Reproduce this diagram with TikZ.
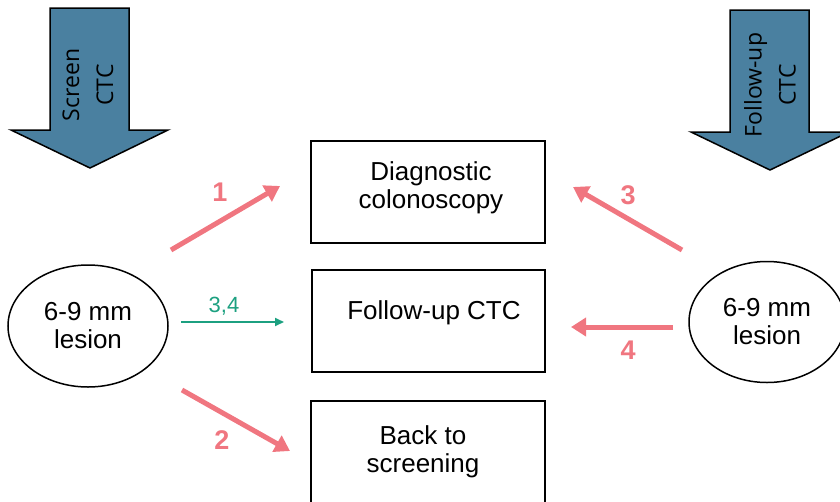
\documentclass[tikz,border=0pt]{standalone}
\usepackage{fontspec}
\setmainfont{Liberation Sans}
\newfontfamily\arrowfont{Open Sans}
\usetikzlibrary{arrows.meta,shapes.geometric}
\definecolor{pinkarr}{RGB}{240,118,128}
\definecolor{greenarr}{RGB}{28,160,128}
\definecolor{bluearr}{RGB}{74,128,160}
\tikzset{
  boxnode/.style={draw=black,line width=1.8pt,rectangle,inner sep=0pt},
  boxtext/.style={font=\fontsize{26}{28}\selectfont,align=center,inner sep=0pt},
  lesion/.style={draw=black,line width=1.5pt,ellipse,inner sep=0pt,align=center,font=\fontsize{26}{28}\selectfont},
  bigarrow/.style={draw=black,line width=1.5pt,fill=bluearr,line join=miter},
  arrowtext/.style={rotate=90,align=center,font=\arrowfont\fontsize{23}{34}\selectfont,inner sep=0pt},
  pinkline/.style={draw=pinkarr,line width=5pt,-{Triangle[length=15pt,width=18pt]}},
  greenline/.style={draw=greenarr,line width=1.8pt,-{Triangle[length=9pt,width=8pt]}},
  pinklabel/.style={text=pinkarr,font=\bfseries\fontsize{27}{27}\selectfont,inner sep=0pt},
  greenlabel/.style={text=greenarr,font=\fontsize{22}{22}\selectfont,inner sep=0pt}
}
\begin{document}
\begin{tikzpicture}[x=1pt,y=-1pt]
\useasboundingbox (0,0) rectangle (840,501);
\clip (0,0) rectangle (840,501);
% big blue arrows
\draw[bigarrow] (50,8) -- (129,8) -- (129,130) -- (168,130) -- (90,168) -- (11,130) -- (50,130) -- cycle;
\node[arrowtext] (screen) at (88,85) {Screen\\CTC};
\draw[bigarrow] (730,10) -- (809,10) -- (809,132) -- (849,132) -- (770,170) -- (691,132) -- (730,132) -- cycle;
\node[arrowtext] (follow) at (770,85) {Follow-up\\CTC};
% boxes
\node[boxnode,minimum width=234pt,minimum height=102pt] (diag) at (428,192) {};
\node[boxtext] (diagt) at (431,188) {Diagnostic\\colonoscopy};
\node[boxnode,minimum width=233pt,minimum height=102pt] (fup) at (428.5,321) {};
\node[boxtext] (fupt) at (434,313) {Follow-up CTC};
\node[boxnode,minimum width=234pt,minimum height=102pt] (back) at (428,452) {};
\node[boxtext] (backt) at (423,452) {Back to\\screening};
% lesions
\node[lesion,minimum width=160pt,minimum height=122pt] (lesL) at (88,326) {6-9 mm\\lesion};
\node[lesion,minimum width=156pt,minimum height=121pt] (lesR) at (767,322) {6-9 mm\\lesion};
% connector endpoints
\coordinate (a1s) at (171,250); \coordinate (a1e) at (280,186);
\coordinate (a2s) at (182,390); \coordinate (a2e) at (290,451);
\coordinate (g1s) at (181,322); \coordinate (g1e) at (284,322);
\coordinate (a3s) at (682,250); \coordinate (a3e) at (573,187);
\coordinate (a4s) at (673,327); \coordinate (a4e) at (571,327);
\draw[pinkline] (a1s) -- (a1e);
\draw[pinkline] (a2s) -- (a2e);
\draw[greenline] (g1s) -- (g1e);
\draw[pinkline] (a3s) -- (a3e);
\draw[pinkline] (a4s) -- (a4e);
% labels
\node[pinklabel] (l1) at (220,192) {1};
\node[pinklabel] (l2) at (222,440) {2};
\node[pinklabel] (l3) at (628,195) {3};
\node[pinklabel] (l4) at (628,350) {4};
\node[greenlabel] (l34) at (224,306) {3,4};
\end{tikzpicture}
\end{document}
